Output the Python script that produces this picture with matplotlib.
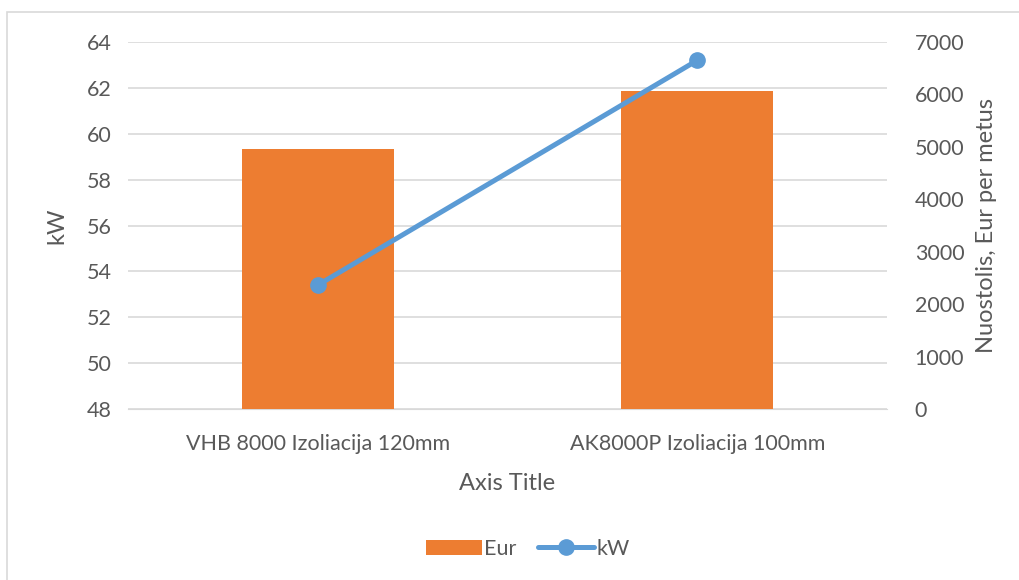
import matplotlib.pyplot as plt
from matplotlib.patches import Rectangle

# chart data
categories = ["VHB 8000 Izoliacija 120mm", "AK8000P Izoliacija 100mm"]
eur_values = [4950, 6070]
kw_values = [53.4, 63.2]

# colours
ORANGE = "#ED7D31"
BLUE = "#5B9BD5"
TEXT = "#595959"
GRID = "#D9D9D9"

plt.rcParams["font.family"] = ["Lato", "DejaVu Sans"]

fig = plt.figure(figsize=(10.19, 5.80), dpi=100)

# light frame round the chart (left and top visible)
fig.patches.append(Rectangle((7 / 1019, -0.05), 1.1, 1 - 12 / 580 + 0.05,
                             transform=fig.transFigure, fill=False,
                             edgecolor=GRID, linewidth=1.2))

ax = fig.add_axes([128 / 1019, 1 - 409 / 580, 759 / 1019, 367 / 580])
x = list(range(len(categories)))

# left axis: kW, holds the grid
ax.set_ylim(48, 64)
ax.set_yticks(range(48, 65, 2))
ax.set_xlim(-0.5, 1.5)
ax.grid(axis="y", color=GRID, linewidth=1.2)
ax.set_axisbelow(True)
for s in ax.spines.values():
    s.set_visible(False)
ax.spines["bottom"].set_visible(True)
ax.spines["bottom"].set_color(GRID)
ax.tick_params(axis="y", length=0, labelsize=15.5, colors=TEXT, pad=12)
ax.tick_params(axis="x", length=0, labelsize=15.5, colors=TEXT, pad=18)
ax.set_xticks(x)
ax.set_xticklabels(categories)
ax.set_ylabel("kW", fontsize=17, color=TEXT, labelpad=14)
ax.set_xlabel("Axis Title", fontsize=17, color=TEXT, labelpad=14)

# right axis: Eur bars
ax2 = ax.twinx()
ax2.bar(x, eur_values, width=0.4, color=ORANGE, label="Eur")
ax2.set_ylim(0, 7000)
ax2.set_yticks(range(0, 7001, 1000))
for s in ax2.spines.values():
    s.set_visible(False)
ax2.tick_params(axis="y", length=0, labelsize=15.5, colors=TEXT, pad=20)
ax2.set_ylabel("Nuostolis, Eur per metus", fontsize=17, color=TEXT, labelpad=8)

# kW line drawn on top of the bars
ax3 = ax.twinx()
ax3.plot(x, kw_values, color=BLUE, linewidth=3.6, marker="o", markersize=11,
         label="kW", solid_capstyle="round")
ax3.set_ylim(48, 64)
ax3.axis("off")

handles = [ax2.patches[0], ax3.lines[0]]
fig.legend(handles, ["Eur", "kW"], loc="center", bbox_to_anchor=(528 / 1019, 1 - 549 / 580),
           ncol=2, frameon=False, fontsize=15.5, labelcolor=TEXT,
           handlelength=2.6, handletextpad=0.1, columnspacing=1.0)

fig.savefig("out.png", dpi=100)
